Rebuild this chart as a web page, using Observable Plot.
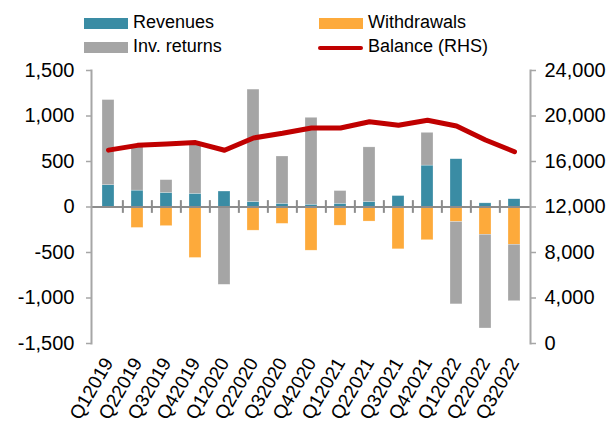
<!DOCTYPE html>
<html><head><meta charset="utf-8">
<script src="https://cdn.jsdelivr.net/npm/d3@7"></script>
<script src="https://cdn.jsdelivr.net/npm/@observablehq/plot@0.6"></script>
<style>
body{margin:0;background:#fff;}
#wrap{position:relative;width:613px;height:428px;font-family:"Liberation Sans",Arial,sans-serif;}
.lg{position:absolute;font-size:18px;line-height:18px;color:#000;white-space:nowrap;}
.sw{position:absolute;}
</style></head><body>
<div id="wrap"></div>
<script>
const quarters = ["Q12019","Q22019","Q32019","Q42019","Q12020","Q22020","Q32020","Q42020","Q12021","Q22021","Q32021","Q42021","Q12022","Q22022","Q32022"];
const revenues = [240, 180, 155, 145, 170, 55, 35, 25, 35, 55, 120, 455, 525, 40, 85];
const withdrawals = [0, -230, -210, -560, 0, -260, -185, -480, -205, -160, -465, -365, -165, -305, -415];
const invReturns = [935, 480, 140, 545, -855, 1235, 520, 955, 140, 600, 0, 360, -905, -1030, -620];
const balance = [17000, 17420, 17540, 17660, 16990, 18070, 18480, 18950, 18950, 19500, 19180, 19620, 19120, 17890, 16860];
const seriesNames = ["Revenues", "Withdrawals", "Inv. returns"];
const seriesColors = ["#3A8CA4", "#FDAA3B", "#A5A5A5"];
const lineName = "Balance (RHS)";
const lineColor = "#C00000";
const leftTicks = [-1500, -1000, -500, 0, 500, 1000, 1500];
const rightTicks = [0, 4000, 8000, 12000, 16000, 20000, 24000];

const toLeft = b => b / 8 - 1500;
const fromLeft = v => (v + 1500) * 8;
const fmt = d => Math.round(d).toLocaleString("en-US");

const rows = [];
quarters.forEach((q, i) => {
  rows.push({q, s: "Revenues", v: revenues[i]});
  rows.push({q, s: "Withdrawals", v: withdrawals[i]});
  rows.push({q, s: "Inv. returns", v: invReturns[i]});
});
const bal = quarters.map((q, i) => ({q, b: balance[i]}));

const W = 613, H = 428, mL = 91, mR = 83;
const step = (W - mL - mR) / quarters.length;

const chart = Plot.plot({
  width: W, height: H,
  marginLeft: mL, marginRight: mR, marginTop: 70, marginBottom: 85,
  style: {fontFamily: '"Liberation Sans", Arial, sans-serif', fontSize: "20px", color: "#000", background: "#fff", overflow: "visible"},
  x: {type: "band", domain: quarters, paddingInner: 0.6, paddingOuter: 0.3},
  y: {domain: [-1500, 1500]},
  color: {domain: seriesNames, range: seriesColors},
  marks: [
    Plot.barY(rows, {x: "q", y: "v", fill: "s", order: seriesNames, stroke: "#fff", strokeOpacity: 0.5, strokeWidth: 0.5}),
    Plot.ruleY([0], {stroke: "#8C8C8C", strokeWidth: 2}),
    Plot.ruleX(quarters.slice(1), {x: d => d, dx: -step / 2, y1: -70, y2: 70, stroke: "#8C8C8C", strokeWidth: 2}),
    Plot.line(bal, {x: "q", y: d => toLeft(d.b), stroke: lineColor, strokeWidth: 5, strokeLinejoin: "round"}),
    Plot.axisY(leftTicks, {anchor: "left", tickSize: 5, tickPadding: 12, tickFormat: fmt, stroke: "#A6A6A6", strokeWidth: 1.5, label: null}),
    Plot.axisY(rightTicks.map(toLeft), {anchor: "right", tickSize: 5, tickPadding: 9, tickFormat: d => fmt(fromLeft(d)), stroke: "#A6A6A6", strokeWidth: 1.5, label: null}),
    Plot.frame({anchor: "left", stroke: "#A6A6A6", strokeWidth: 2}),
    Plot.frame({anchor: "right", stroke: "#A6A6A6", strokeWidth: 2}),
    Plot.axisX({anchor: "bottom", tickSize: 0, tickRotate: -60, tickPadding: 16, fontSize: 19, label: null})
  ]
});

const wrap = document.getElementById("wrap");
wrap.appendChild(chart);

const legendItems = [
  {name: seriesNames[0], color: seriesColors[0], type: "box", x: 84, y: 13},
  {name: seriesNames[1], color: seriesColors[1], type: "box", x: 319, y: 13},
  {name: seriesNames[2], color: seriesColors[2], type: "box", x: 84, y: 37},
  {name: lineName, color: lineColor, type: "line", x: 319, y: 37}
];
legendItems.forEach(it => {
  const sw = document.createElement("div");
  sw.className = "sw";
  if (it.type === "box") {
    Object.assign(sw.style, {left: it.x + "px", top: (it.y + 5) + "px", width: "44px", height: "11px", background: it.color});
  } else {
    Object.assign(sw.style, {left: (it.x - 1) + "px", top: (it.y + 9) + "px", width: "45px", height: "4px", background: it.color, borderRadius: "2px"});
  }
  wrap.appendChild(sw);
  const t = document.createElement("div");
  t.className = "lg";
  t.textContent = it.name;
  Object.assign(t.style, {left: (it.x + 49) + "px", top: it.y + "px"});
  wrap.appendChild(t);
});
</script>
</body></html>
